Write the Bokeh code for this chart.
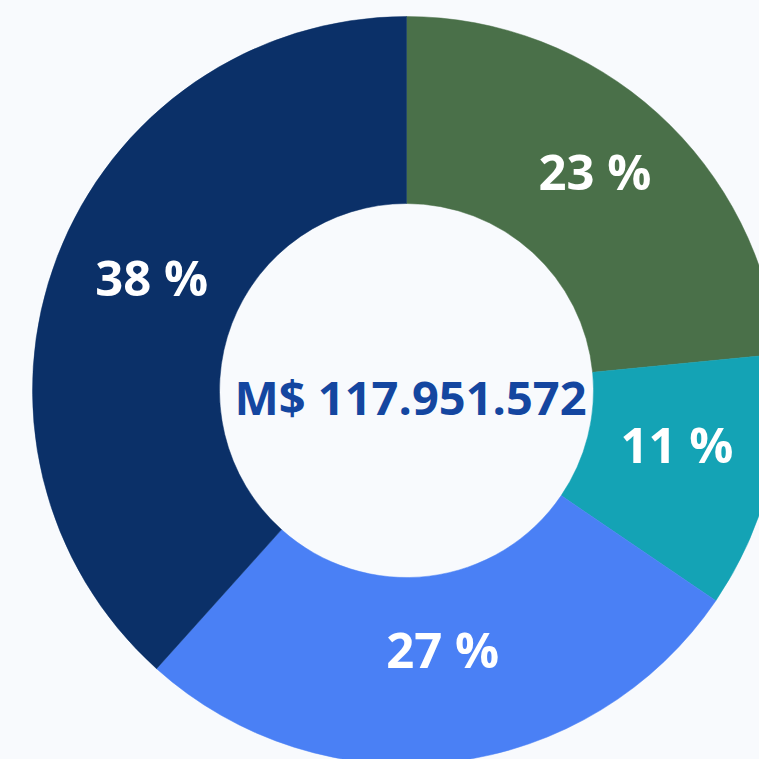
import math
from bokeh.plotting import figure
from bokeh.models import Range1d, ColumnDataSource
from bokeh.core.properties import value
from bokeh.embed import file_html
from bokeh.resources import INLINE

categories = ["A", "B", "C", "D"]
amounts = [27659644, 13033649, 32023852, 45234427]
colors = ["#4a7049", "#14a3b5", "#4a80f5", "#0b3068"]
center_label = "M$ 117.951.572"
bg = "#f8fafd"

total = sum(amounts)
starts, ends, lx, ly, labels = [], [], [], [], []
cum = 0.0
r_in, r_out, r_lab = 187, 374, 276
for a in amounts:
    f0 = cum / total
    cum += a
    f1 = cum / total
    starts.append(math.pi / 2 - 2 * math.pi * f0)
    ends.append(math.pi / 2 - 2 * math.pi * f1)
    mid = math.pi / 2 - math.pi * (f0 + f1)
    lx.append(r_lab * math.cos(mid))
    ly.append(r_lab * math.sin(mid))
    labels.append(f"{round(100 * a / total)} %")

src = ColumnDataSource(dict(cat=categories, start=starts, end=ends, color=colors,
                            lx=lx, ly=ly, label=labels))

W, H = 759, 759
cx, cy = 406, 390  # donut center in figure pixels (from left/top)
p = figure(width=W, height=H, output_backend="svg", toolbar_location=None,
           x_range=Range1d(-cx, W - cx), y_range=Range1d(-(H - cy), cy),
           min_border=0, background_fill_color=bg, border_fill_color=bg,
           outline_line_color=None)
p.axis.visible = False
p.grid.visible = False

p.annular_wedge(x=0, y=0, inner_radius=r_in, outer_radius=r_out,
                start_angle="start", end_angle="end", direction="clock",
                color="color", line_color="color", line_width=0.5, source=src)

p.text(x="lx", y="ly", text="label", source=src, text_color="white",
       text_font=value("Open Sans"), text_font_style="bold", text_font_size="49px",
       text_align="center", text_baseline="middle", x_offset=3, y_offset=-15)

p.text(x=[0], y=[0], text=[center_label], text_color="#1446a0",
       text_font=value("Open Sans"), text_font_style="bold", text_font_size="47px",
       text_align="center", text_baseline="middle", x_offset=4, y_offset=6)

html = file_html(p, INLINE)
html = html.replace("</head>", "<style>html,body{background:%s;margin:0;overflow:hidden;}</style></head>" % bg, 1)
open("out.html", "w").write(html)
